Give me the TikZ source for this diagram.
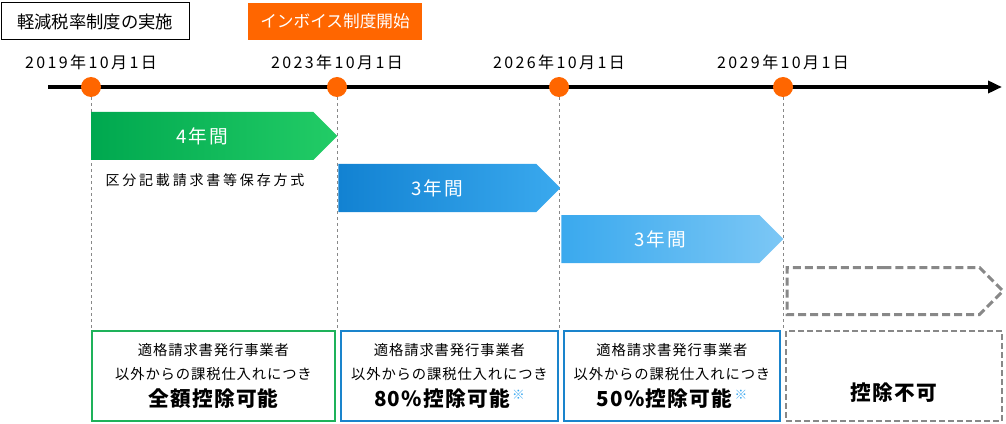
\documentclass[tikz,border=0pt]{standalone}
\usepackage{fontspec}
\setmainfont{Noto Sans CJK JP}
\usetikzlibrary{shapes.symbols,arrows.meta}

\definecolor{dotorange}{HTML}{FF6600}
\definecolor{greenL}{HTML}{00A84F}
\definecolor{greenR}{HTML}{22CC66}
\definecolor{blueA}{HTML}{1282D2}
\definecolor{blueB}{HTML}{3AA9EE}
\definecolor{blueC}{HTML}{7CC7F5}
\definecolor{boxgreen}{HTML}{1EB25A}
\definecolor{boxblue}{HTML}{1A84CC}
\definecolor{guidegray}{HTML}{888888}
\definecolor{marknote}{HTML}{3FA9F0}

\newcommand{\notemark}{\,{\color{marknote}\fontsize{9.5pt}{9.5pt}\selectfont\bfseries\raisebox{5pt}{※}}}
\newcommand{\deduct}[1]{{\fontsize{15.5pt}{18pt}\selectfont\bfseries #1}}

\begin{document}
\begin{tikzpicture}[
			x=0.75pt, y=-0.75pt,
			headbox/.style={draw, line width=0.75pt, minimum width=141pt, minimum height=27.75pt, inner sep=0pt, font=\fontsize{13pt}{13pt}\selectfont},
			startbox/.style={fill=dotorange, text=white, minimum width=130.5pt, minimum height=27.75pt, inner sep=0pt, font=\fontsize{12.5pt}{12.5pt}\selectfont},
			datelabel/.style={inner sep=0pt, font=\fontsize{12pt}{12pt}\selectfont\addfontfeature{LetterSpace=15}},
			dot/.style={circle, fill=dotorange, minimum size=15pt, inner sep=0pt},
			guide/.style={draw=guidegray, line width=0.6pt, dash pattern=on 2.25pt off 2.25pt},
			period/.style={signal, signal to=east, signal pointer angle=90, minimum height=36pt, inner sep=0pt, anchor=west},
			periodtext/.style={text=white, font=\fontsize{14pt}{14pt}\selectfont\addfontfeature{LetterSpace=10}},
			creditbox/.style={minimum height=67.5pt, inner sep=0pt, align=center, line width=1.5pt, font=\fontsize{10.75pt}{18pt}\selectfont\addfontfeature{LetterSpace=6}}
			]
			\useasboundingbox (0,0) rectangle (1006,424);
			
			% Header boxes
			\node[headbox] (reduced) at (95,21.5) {軽減税率制度の実施};
			\node[startbox] (invoice) at (335,21.5) {インボイス制度開始};
			
			% Timeline with dates
			\coordinate (tl0) at (48,87);
			\coordinate (tl1) at (1002,87);
			\coordinate (base) at (0,330);
			\draw[line width=3pt, -{Triangle[length=10.5pt, width=9pt]}] (tl0) -- (tl1);
			\foreach \x/\n/\yr in {91/d1/2019, 337/d2/2023, 559/d3/2026, 783/d4/2029} {
				\node[dot] (\n) at (\x,87) {};
				\node[datelabel] (\n-date) at (\x,62) {\yr 年10月1日};
				\draw[guide] (\n.south) -- (\n |- base);
			}
			
			% Transition periods
			\node[period, minimum width=184.5pt, left color=greenL, right color=greenR,
				label={[periodtext]center:4年間}] (p1) at (91,136) {};
			\node[font=\fontsize{10.5pt}{10.5pt}\selectfont\addfontfeature{LetterSpace=20}] (method) at (205,180) {区分記載請求書等保存方式};
			\node[period, minimum width=166.5pt, left color=blueA, right color=blueB,
				label={[periodtext]center:3年間}] (p2) at (338,188) {};
			\node[period, minimum width=166.5pt, left color=blueB, right color=blueC,
				label={[periodtext]center:3年間}] (p3) at (561,239) {};
			\node[period, draw=guidegray, line width=2.25pt, dash pattern=on 6pt off 3pt,
				minimum width=162pt, minimum height=35.25pt] (p4) at (785.5,291) {};
			
			% Credit boxes
			\node[creditbox, draw=boxgreen, minimum width=182.25pt] (b1) at (213.5,376)
				{適格請求書発行事業者\\以外からの課税仕入れにつき\\[2.25pt]\deduct{全額控除可能}};
			\node[creditbox, draw=boxblue, minimum width=162.75pt] (b2) at (449.5,376)
				{適格請求書発行事業者\\以外からの課税仕入れにつき\\[2.25pt]\deduct{80\%控除可能}\notemark};
			\node[creditbox, draw=boxblue, minimum width=162pt] (b3) at (672,376)
				{適格請求書発行事業者\\以外からの課税仕入れにつき\\[2.25pt]\deduct{50\%控除可能}\notemark};
			\node[creditbox, draw=guidegray, dash pattern=on 4.5pt off 2.25pt, minimum width=162pt] (b4) at (894,376)
				{\mbox{}\\\mbox{}\\[2.25pt]\deduct{控除不可}};
			
		\end{tikzpicture}
\end{document}
